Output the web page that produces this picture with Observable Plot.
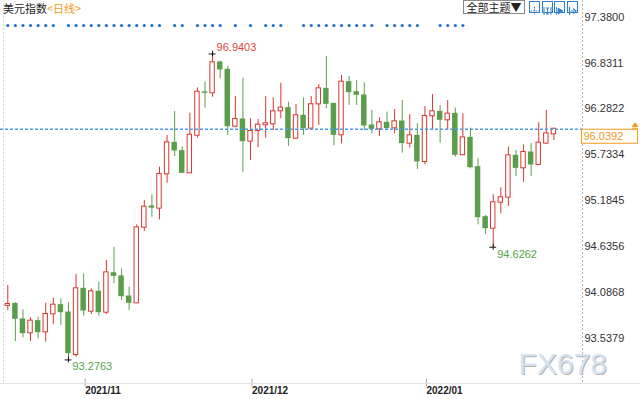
<!DOCTYPE html>
<html><head><meta charset="utf-8">
<script src="https://cdn.jsdelivr.net/npm/d3@7"></script>
<script src="https://cdn.jsdelivr.net/npm/@observablehq/plot@0.6"></script>
<style>
body{margin:0;background:#fff;font-family:"Liberation Sans",Arial,sans-serif;}
#wrap{position:relative;width:640px;height:399px;overflow:hidden;background:#fff}
#wrap svg{position:absolute;left:0;top:0}
.ov{position:absolute}
#title{left:3px;top:1px;font:11px "Noto Sans CJK SC",sans-serif;line-height:14px;color:#222;white-space:nowrap}
#title span{color:#f39a22}
#theme{left:463px;top:0;width:60px;height:12px;border:1px solid #8a8a8a;font:11px "Noto Sans CJK SC",sans-serif;line-height:12px;text-align:center;color:#222;background:#fff}
.ib{top:1px;width:9px;height:10px;border:1px solid #2f7fd0;background:#fff}
#sep{left:0;top:383px;width:640px;height:1px;background:#e2e2e2}
</style></head><body><div id="wrap"></div>
<script>
// ---- data (daily candles, index 0 = first visible trading day) ----
const opens  = [93.930,93.948,93.761,93.601,93.741,93.613,93.828,93.932,93.844,93.341,94.128,93.860,94.092,93.848,94.315,94.276,94.036,93.960,94.866,95.114,95.094,95.505,95.876,95.777,95.517,95.968,96.480,96.475,96.839,96.751,96.076,96.156,95.896,96.024,96.092,96.104,96.260,96.292,95.932,96.200,96.052,96.343,96.523,96.343,95.972,96.603,96.483,96.443,96.084,96.044,96.116,96.056,96.132,95.873,95.960,95.653,96.200,96.248,96.152,96.224,95.733,95.936,95.585,94.986,94.854,95.166,95.226,95.721,95.577,95.761,95.617,95.873,95.984];
const highs  = [94.168,93.960,93.876,93.781,93.789,93.956,94.016,94.008,93.960,94.300,94.307,94.128,94.208,94.467,94.627,94.367,94.148,94.894,95.186,95.254,95.585,95.964,96.252,95.825,96.232,96.535,96.603,96.9403,96.855,96.791,96.431,96.651,96.164,96.156,96.431,96.415,96.591,96.363,96.335,96.415,96.431,96.575,96.910,96.343,96.683,96.671,96.623,96.595,96.264,96.176,96.244,96.276,96.383,96.216,96.104,96.312,96.455,96.324,96.383,96.292,96.224,96.052,95.685,95.006,95.254,95.338,95.825,95.785,95.853,95.865,96.116,96.264,96.050];
const lows   = [93.868,93.497,93.541,93.497,93.529,93.489,93.697,93.689,93.2763,93.309,93.800,93.820,93.800,93.820,94.188,93.988,93.868,93.950,94.815,94.986,94.954,95.393,95.713,95.513,95.513,95.932,96.292,96.423,96.643,95.964,96.056,95.525,95.665,95.817,95.932,96.024,96.164,95.833,95.924,95.964,96.044,96.084,96.284,95.841,95.865,96.324,96.324,96.024,95.984,95.952,96.024,95.984,95.753,95.813,95.557,95.613,96.024,95.873,96.024,95.705,95.725,95.565,94.894,94.779,94.6262,95.026,95.114,95.473,95.405,95.473,95.605,95.857,95.905];
const closes = [93.940,93.769,93.597,93.741,93.609,93.820,93.932,93.848,93.357,94.128,93.868,94.092,93.848,94.319,94.283,94.040,93.960,94.858,95.106,95.100,95.497,95.876,95.785,95.517,95.968,96.483,96.475,96.835,96.755,96.076,96.156,95.896,96.012,96.088,96.104,96.248,96.292,95.932,96.200,96.052,96.332,96.523,96.343,95.972,96.603,96.483,96.451,96.084,96.044,96.116,96.052,96.128,95.873,95.960,95.653,96.192,96.248,96.152,96.220,95.733,95.936,95.585,94.986,94.854,95.158,95.218,95.721,95.577,95.761,95.617,95.873,95.984,96.0392];
const monthTickIdx = [10, 32, 55];
const monthLabels = ["2021/11", "2021/12", "2022/01"];
const yTickValues = [97.3800, 96.8311, 96.2822, 95.7334, 95.1845, 94.6356, 94.0868, 93.5379];
const eventIdx = [0,1,2,3,4,5,6,8,9,10,11,12,13,14,15,16,17,18,19,20,22,23,25,26,27,28,30,32,34,35,36,39,40,41,42,43,44,45,46,47,48,50,51,52,53,54,57,58,59,60];
const lastPrice = 96.0392;
const highMarks = [{i: 27, v: 96.9403, label: "96.9403"}];
const lowMarks  = [{i: 8, v: 93.2763, label: "93.2763"}, {i: 64, v: 94.6262, label: "94.6262"}];

const RED = "#d8362f", GREEN = "#5a9e4b";
const candles = opens.map((o, i) => ({i, o, h: highs[i], l: lows[i], c: closes[i], up: closes[i] >= o}));
const ups = candles.filter(d => d.up), downs = candles.filter(d => !d.up);
const extremes = highMarks.concat(lowMarks);

const chart = Plot.plot({
  width: 640, height: 399,
  marginLeft: 0, marginRight: 58, marginTop: 0, marginBottom: 16,
  x: {domain: [-0.962, 75.77], label: null},
  y: {domain: [92.994, 97.581], label: null},
  style: {background: "white", color: "#333", fontFamily: "'Liberation Sans', Arial, sans-serif", overflow: "visible"},
  marks: [
    Plot.frame({anchor: "right", stroke: "#b8b8b8", strokeDasharray: "1,3"}),
    Plot.frame({anchor: "left", stroke: "#d8d8d8", strokeDasharray: "1,3", dx: 3}),
    Plot.ruleX(candles, {x: "i", y1: "l", y2: "h", stroke: d => d.up ? RED : GREEN, strokeWidth: 1}),
    Plot.rect(downs, {x1: d => d.i - 0.36, x2: d => d.i + 0.36, y1: "o", y2: "c", fill: GREEN, insetTop: -0.5, insetBottom: -0.5}),
    Plot.rect(ups, {x1: d => d.i - 0.29, x2: d => d.i + 0.29, y1: "o", y2: "c", fill: "white", stroke: RED, strokeWidth: 1, insetTop: -0.5, insetBottom: -0.5}),
    Plot.ruleY([lastPrice], {stroke: "#4a9be8", strokeWidth: 1.5, strokeDasharray: "3,2"}),
    Plot.dot(eventIdx, {x: d => d, frameAnchor: "top", dy: 25, r: 1.6, fill: "#1f6fc6", stroke: "none"}),
    Plot.ruleY(extremes, {y: "v", x1: d => d.i - 0.45, x2: d => d.i + 0.45, stroke: "#111"}),
    Plot.ruleX(extremes, {x: "i", y1: d => d.v - 0.035, y2: d => d.v + 0.035, stroke: "#111"}),
    Plot.text(highMarks, {x: "i", y: "v", text: "label", fill: "#e0453c", textAnchor: "start", dx: 4, dy: -6.5, fontSize: 11}),
    Plot.text(lowMarks, {x: "i", y: "v", text: "label", fill: "#55a548", textAnchor: "start", dx: 4, dy: 7, fontSize: 11}),
    Plot.text(["FX678"], {frameAnchor: "bottom-right", text: d => d, dx: 25.5, dy: -9, fontSize: 30, fill: "#b9b3ad", textAnchor: "end", lineAnchor: "bottom", letterSpacing: "2.5px"}),
    Plot.text(["FX678"], {frameAnchor: "bottom-right", text: d => d, dx: 24.5, dy: -10, fontSize: 30, fill: "#d3e3f3", textAnchor: "end", lineAnchor: "bottom", letterSpacing: "2.5px"}),
    Plot.axisY(yTickValues, {anchor: "right", tickSize: 0, tickPadding: 2, tickFormat: d => d.toFixed(4), fontSize: 11, fill: "#333", label: null}),
    Plot.axisX(monthTickIdx, {anchor: "bottom", tickSize: 8, tickPadding: 0, textAnchor: "start", dx: 1.5, dy: -4.5, fontSize: 10, fontWeight: "bold", fill: "#222", stroke: "#aaa", label: null,
      tickFormat: d => monthLabels[monthTickIdx.indexOf(d)]})
  ]
});

const wrap = document.getElementById("wrap");
wrap.appendChild(chart);

// current price tag, positioned with the plot's own y scale
const svg = d3.select(chart);
const py = chart.scale("y").apply(lastPrice);
const xr = chart.scale("x").range[1];
const g = svg.append("g").attr("text-anchor", "start");
g.append("rect").attr("x", xr - 0.5).attr("y", py + 0.5).attr("width", 56).attr("height", 14)
  .attr("fill", "white").attr("stroke", "#f39a1e").attr("stroke-width", 1);
g.append("text").attr("x", xr + 1.5).attr("y", py + 7.5).attr("dy", "0.35em").attr("text-anchor", "start")
  .attr("fill", "#f39a1e").attr("font-size", 11).text(lastPrice.toFixed(4));
g.append("path").attr("d", `M${xr+50},${py-2} l3,-4 l3,4 z M${xr+50},${py} h6`)
  .attr("fill", "#f39a1e").attr("stroke", "#f39a1e").attr("stroke-width", 1);

// header overlays
const ov = (id, html) => { const d = document.createElement("div"); d.className = "ov"; d.id = id; d.innerHTML = html; wrap.appendChild(d); return d; };
ov("title", '美元指数<span>&lt;日线&gt;</span>');
ov("theme", '全部主题▼');
ov("sep", '');
const iconPaths = [
  '<path d="M4.5 1v8M0.5 5h8" stroke="#2f7fd0" stroke-width="1" stroke-dasharray="1.5,1"/>',
  '<path d="M1 1v8M8 1v8M3 2h3M4.5 2v6M3 8h3" stroke="#2f7fd0" stroke-width="1"/>',
  '<path d="M1.5 1v8M3 2l5 3-5 3z" stroke="#2f7fd0" fill="#2f7fd0" stroke-width="0.8"/>',
  '<path d="M1.5 1v8M3 5h3M5 2.5l3 2.5-3 2.5" stroke="#2f7fd0" fill="none" stroke-width="1.2"/>'
];
[529, 541.5, 554, 567].forEach((x, k) => {
  const d = document.createElement("div");
  d.className = "ov ib"; d.style.left = x + "px";
  d.innerHTML = `<svg width="9" height="10" style="position:static">${iconPaths[k]}</svg>`;
  wrap.appendChild(d);
});
</script>
</body></html>
